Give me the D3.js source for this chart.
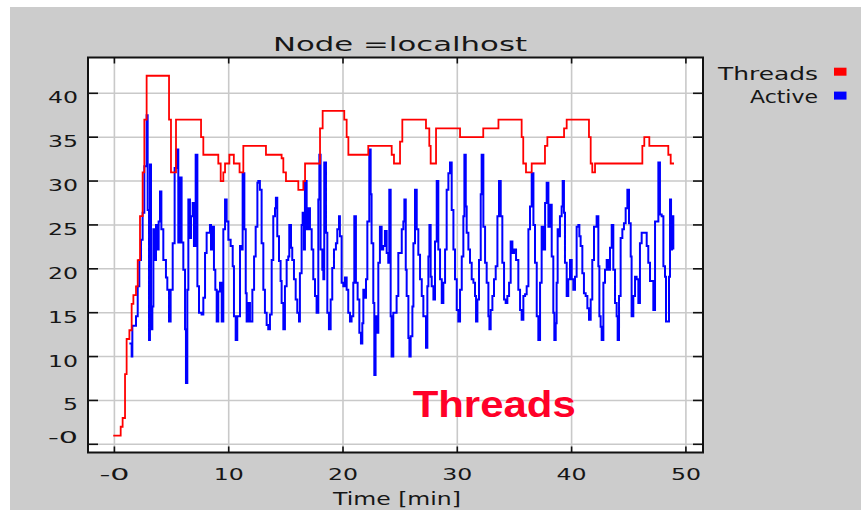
<!DOCTYPE html>
<html><head><meta charset="utf-8">
<script src="https://cdn.jsdelivr.net/npm/d3@7"></script>
<style>html,body{margin:0;padding:0;background:#fff;} svg{display:block}</style>
</head><body>
<svg id="c" width="861" height="510"></svg>
<script>
// ---------------- data ----------------
const chartTitle = "Node =localhost";
const xTitle = "Time [min]";
const annotationText = "Threads";
const seriesNames = ["Threads", "Active"];
const seriesColors = ["#ff0000", "#0000ff"];
const xTicks = [0, 10, 20, 30, 40, 50];
const xTickLabels = ["-0", "10", "20", "30", "40", "50"];
const yTicks = [0, 5, 10, 15, 20, 25, 30, 35, 40];
const yTickLabels = ["-0", "5", "10", "15", "20", "25", "30", "35", "40"];

const threadsTime = [-0.1, 0.55, 0.72, 0.93, 1.07, 1.31, 1.51, 1.66, 1.89, 2.04, 2.24, 2.47, 2.62, 2.82,
  4.78, 4.95, 5.39, 7.58, 7.78, 9.09, 9.30, 9.53, 9.68, 10.06, 10.45, 10.95, 11.28,
  13.26, 14.63, 14.78, 15.01, 16.09, 16.53, 16.68, 17.99, 18.22, 20.11, 20.32, 20.47, 22.21,
  24.26, 24.46, 24.99, 25.19, 27.26, 27.55, 27.67, 28.14, 30.24, 32.27, 33.60, 35.63, 35.77,
  36.01, 36.51, 37.67, 37.88, 39.34, 39.57, 41.52, 41.67, 41.81, 42.05, 46.19, 46.36, 46.80,
  48.46, 48.67, 48.96];
const threadsValue = [1, 2, 3, 8, 12, 13, 16, 17, 18, 21, 26, 31, 37, 42,
  37, 31, 37, 35, 33, 32, 30, 31, 32, 33, 32, 31, 34,
  33, 32.6, 31, 30, 29, 30, 32, 36, 38, 37, 35, 33, 34,
  33, 32, 34.5, 37, 36, 34, 32, 36, 35, 36, 37, 35, 32,
  31, 32, 34, 35, 36, 37, 35, 32, 31, 32, 34, 35, 34,
  33, 32, 32];

const activeTime = [1.31, 1.51, 1.57, 1.89, 2.04, 2.18, 2.33, 2.47, 2.62, 2.82, 2.91, 3.03, 3.11, 3.20,
  3.32, 3.41, 3.55, 3.64, 3.76, 3.87, 3.99, 4.11, 4.28, 4.51, 4.63, 4.78, 4.92, 5.10, 5.27, 5.42,
  5.59, 5.74, 5.88, 6.03, 6.18, 6.26, 6.38, 6.47, 6.61, 6.70, 6.85, 6.96, 7.11, 7.26, 7.40, 7.63,
  7.78, 7.93, 8.07, 8.36, 8.45, 8.60, 8.71, 8.83, 8.95, 9.09, 9.24, 9.39, 9.53, 9.68, 9.82, 9.97,
  10.17, 10.35, 10.46, 10.61, 10.75, 10.99, 11.13, 11.22, 11.37, 11.49, 11.57, 11.72, 11.86, 12.07,
  12.22, 12.36, 12.51, 12.59, 12.73, 12.88, 13.03, 13.17, 13.32, 13.46, 13.61, 13.76, 13.90, 14.05,
  14.13, 14.25, 14.40, 14.54, 14.63, 14.78, 14.92, 15.07, 15.21, 15.30, 15.45, 15.56, 15.71, 15.86,
  16.00, 16.15, 16.23, 16.38, 16.47, 16.58, 16.67, 16.82, 16.96, 17.11, 17.26, 17.40, 17.55, 17.69,
  17.84, 17.93, 18.04, 18.19, 18.28, 18.36, 18.51, 18.63, 18.77, 18.92, 19.06, 19.21, 19.38, 19.50,
  19.65, 19.73, 19.88, 20.03, 20.17, 20.32, 20.46, 20.61, 20.75, 20.90, 20.99, 21.13, 21.28, 21.43,
  21.57, 21.69, 21.78, 21.86, 22.01, 22.13, 22.30, 22.42, 22.50, 22.65, 22.74, 22.85, 22.94, 23.09,
  23.23, 23.38, 23.52, 23.67, 23.82, 23.96, 24.05, 24.17, 24.25, 24.40, 24.69, 24.84, 25.14, 25.28,
  25.37, 25.49, 25.57, 25.72, 25.81, 25.92, 26.07, 26.16, 26.30, 26.45, 26.59, 26.74, 26.89, 27.03,
  27.26, 27.38, 27.47, 27.56, 27.67, 27.76, 27.91, 28.05, 28.20, 28.34, 28.49, 28.64, 28.78, 28.93,
  29.07, 29.22, 29.36, 29.51, 29.66, 29.80, 29.95, 30.09, 30.24, 30.39, 30.53, 30.62, 30.74, 30.82,
  30.97, 31.11, 31.26, 31.41, 31.55, 31.64, 31.76, 31.90, 32.05, 32.13, 32.28, 32.43, 32.57, 32.72,
  32.81, 32.92, 33.07, 33.21, 33.36, 33.51, 33.65, 33.80, 33.94, 34.09, 34.23, 34.38, 34.53, 34.67,
  34.82, 34.96, 35.14, 35.34, 35.49, 35.63, 35.78, 35.93, 36.07, 36.22, 36.36, 36.51, 36.66, 36.80,
  36.95, 37.09, 37.24, 37.38, 37.53, 37.68, 37.82, 37.97, 38.11, 38.26, 38.40, 38.49, 38.61, 38.69,
  38.78, 38.90, 38.98, 39.13, 39.22, 39.33, 39.42, 39.57, 39.71, 39.86, 40.01, 40.15, 40.30, 40.44,
  40.59, 40.68, 40.79, 40.94, 41.08, 41.23, 41.38, 41.52, 41.67, 41.81, 41.96, 42.19, 42.34, 42.43,
  42.54, 42.63, 42.78, 42.92, 43.07, 43.21, 43.36, 43.51, 43.65, 43.80, 43.94, 44.03, 44.15, 44.29,
  44.44, 44.58, 44.73, 44.88, 45.02, 45.17, 45.25, 45.40, 45.55, 45.69, 45.84, 45.98, 46.13, 46.57,
  46.71, 46.86, 47.15, 47.30, 47.59, 47.73, 47.88, 48.03, 48.17, 48.26, 48.52, 48.61, 48.70, 48.78,
  48.90];
const activeValue = [11.5, 10.0, 13.5, 14.6, 18.0, 21.0, 23.3, 26.4, 31.7, 37.5, 26.7, 11.9, 31.9, 13.1,
  15.7, 24.5, 21.0, 25.0, 22.2, 25.4, 28.8, 24.5, 21.0, 19.0, 17.6, 14.0, 17.6, 22.9, 31.5, 33.6,
  23.0, 30.4, 23.0, 19.9, 13.1, 7.0, 17.6, 27.9, 23.5, 26.0, 27.5, 22.6, 33.0, 18.0, 15.0, 14.8,
  16.7, 21.8, 24.1, 25.0, 22.2, 24.8, 19.9, 17.6, 14.0, 17.4, 18.4, 14.0, 24.5, 27.9, 25.4, 23.3,
  22.6, 20.3, 14.6, 11.9, 14.6, 22.6, 22.2, 30.9, 24.5, 17.2, 14.0, 16.1, 14.0, 17.6,
  21.4, 24.8, 29.8, 30.0, 29.0, 22.9, 17.6, 15.0, 13.6, 13.1, 14.8, 21.0, 26.0, 26.9,
  28.1, 23.7, 20.9, 18.6, 16.1, 13.1, 18.0, 21.0, 21.4, 25.0, 22.4, 21.0, 18.8, 16.5,
  15.0, 14.0, 19.5, 25.0, 26.4, 22.2, 30.0, 24.5, 26.9, 24.5, 22.2, 18.8, 16.9, 15.0,
  27.9, 33.0, 22.2, 19.9, 18.8, 32.1, 24.1, 15.0, 13.1, 16.5, 20.1, 22.2, 22.9, 24.5,
  26.0, 23.7, 18.4, 18.0, 19.0, 17.6, 15.0, 14.0, 14.6, 18.4, 26.0, 18.4, 16.5, 12.7,
  11.5, 13.8, 17.6, 16.7, 18.8, 25.4, 33.6, 28.5, 22.9, 16.1, 7.9, 14.6, 12.7, 20.7,
  24.8, 22.2, 22.6, 24.3, 21.8, 20.7, 29.0, 14.6, 10.0, 15.0, 16.9, 21.8, 24.5, 25.4,
  27.9, 19.9, 16.9, 12.1, 10.0, 12.3, 15.7, 22.9, 29.0, 24.5, 21.6, 18.8, 16.9, 14.6,
  11.0, 18.0, 21.4, 25.0, 19.1, 18.0, 16.5, 23.1, 30.0, 22.2, 18.8, 16.1, 18.4, 22.2,
  29.0, 30.9, 32.1, 26.7, 22.2, 18.8, 15.3, 14.0, 17.6, 21.4, 26.0, 33.0, 27.1, 24.1,
  22.2, 20.7, 18.8, 18.4, 16.9, 14.0, 16.5, 21.0, 28.5, 33.0, 24.8, 20.7, 18.4, 14.6,
  13.1, 15.3, 16.9, 18.8, 20.3, 26.0, 30.0, 26.0, 20.7, 16.5, 16.1, 16.9, 18.4, 23.1,
  21.8, 22.2, 21.0, 17.6, 15.3, 14.2, 16.9, 17.1, 18.0, 24.5, 27.1, 30.9, 25.0, 20.7,
  14.6, 11.9, 18.4, 24.8, 22.2, 27.5, 29.8, 24.8, 27.3, 21.4, 15.0, 11.9, 13.8, 18.4,
  24.5, 23.7, 26.0, 27.1, 30.0, 26.4, 20.7, 16.9, 18.8, 21.0, 18.8, 17.6, 19.1, 24.8,
  25.0, 23.7, 22.6, 19.5, 17.2, 16.9, 15.5, 14.2, 16.5, 21.0, 24.8, 26.0, 20.3, 14.6,
  13.4, 11.9, 18.4, 19.9, 21.0, 19.9, 22.4, 25.0, 19.9, 16.1, 14.6, 11.9, 16.9, 23.5,
  24.5, 25.2, 26.9, 29.0, 25.2, 21.4, 14.6, 16.9, 19.1, 18.8, 16.1, 22.9, 24.1, 22.6,
  20.7, 18.6, 15.3, 25.4, 32.1, 26.2, 26.0, 20.3, 19.1, 14.0, 19.1, 27.9, 22.2, 26.0,
  22.2];

// ---------------- drawing ----------------
const svg = d3.select("#c");
const frame = {left: 88, right: 703, top: 57.5, bottom: 452.5};
const x = d3.scaleLinear().domain([0, 50]).range([114.4, 685.9]);
const y = d3.scaleLinear().domain([0, 40]).range([444.3, 93.3]);
const FONT = "'DejaVu Sans', Verdana, sans-serif";
const txtCol = "#161616";

// grey panel
svg.append("rect").attr("x", 10).attr("y", 7).attr("width", 851).attr("height", 503).attr("fill", "#cccccc");
// plot background
svg.append("rect").attr("x", frame.left).attr("y", frame.top)
  .attr("width", frame.right - frame.left).attr("height", frame.bottom - frame.top).attr("fill", "#ffffff");

svg.append("clipPath").attr("id", "clip").append("rect")
  .attr("x", frame.left).attr("y", frame.top)
  .attr("width", frame.right - frame.left).attr("height", frame.bottom - frame.top);

// grid
const grid = svg.append("g").attr("stroke", "#c9c9c9").attr("stroke-width", 1.6);
grid.selectAll("line.v").data(xTicks).join("line")
  .attr("x1", d => x(d)).attr("x2", d => x(d)).attr("y1", frame.top).attr("y2", frame.bottom);
grid.selectAll("line.h").data(yTicks).join("line")
  .attr("y1", d => y(d)).attr("y2", d => y(d)).attr("x1", frame.left).attr("x2", frame.right);

// series
const plot = svg.append("g").attr("clip-path", "url(#clip)");
const activeData = activeTime.map((t, i) => [t, activeValue[i]]);
const threadsData = threadsTime.map((t, i) => [t, threadsValue[i]]);
const line = d3.line().x(d => x(d[0])).y(d => y(d[1])).curve(d3.curveStepAfter);
plot.append("path").datum(activeData).attr("d", line)
  .attr("fill", "none").attr("stroke", seriesColors[1]).attr("stroke-width", 2);
plot.append("path").datum(threadsData).attr("d", line)
  .attr("fill", "none").attr("stroke", seriesColors[0]).attr("stroke-width", 1.8);

// frame and ticks
svg.append("rect").attr("x", frame.left).attr("y", frame.top)
  .attr("width", frame.right - frame.left).attr("height", frame.bottom - frame.top)
  .attr("fill", "none").attr("stroke", "#111").attr("stroke-width", 2);
const tk = svg.append("g").attr("stroke", "#111").attr("stroke-width", 1.6);
yTicks.forEach(v => {
  tk.append("line").attr("x1", frame.left).attr("x2", frame.left + 10).attr("y1", y(v)).attr("y2", y(v));
  tk.append("line").attr("x1", frame.right - 10).attr("x2", frame.right).attr("y1", y(v)).attr("y2", y(v));
});
xTicks.forEach(v => {
  tk.append("line").attr("x1", x(v)).attr("x2", x(v)).attr("y1", frame.top).attr("y2", frame.top + 6);
  tk.append("line").attr("x1", x(v)).attr("x2", x(v)).attr("y1", frame.bottom - 6).attr("y2", frame.bottom);
});

// tick labels (stretched wide font, as in the reference)
const charW = 15;
yTicks.forEach((v, i) => {
  const s = yTickLabels[i];
  const w = charW * s.length;
  const base = v === 0 ? 443 : y(v) + 10;
  svg.append("text").text(s).attr("x", 78 - w).attr("y", base)
    .attr("font-family", FONT).attr("font-size", 16).attr("fill", txtCol)
    .attr("textLength", w).attr("lengthAdjust", "spacingAndGlyphs");
});
xTicks.forEach((v, i) => {
  const s = xTickLabels[i];
  const w = charW * s.length;
  svg.append("text").text(s).attr("x", x(v) - w / 2).attr("y", 480)
    .attr("font-family", FONT).attr("font-size", 16).attr("fill", txtCol)
    .attr("textLength", w).attr("lengthAdjust", "spacingAndGlyphs");
});

// axis title
svg.append("text").text(xTitle).attr("x", 333).attr("y", 505)
  .attr("font-family", FONT).attr("font-size", 17).attr("fill", txtCol)
  .attr("textLength", 128).attr("lengthAdjust", "spacingAndGlyphs");

// chart title
svg.append("text").text(chartTitle).attr("x", 273).attr("y", 50.7)
  .attr("font-family", FONT).attr("font-size", 19).attr("fill", txtCol)
  .attr("textLength", 254).attr("lengthAdjust", "spacingAndGlyphs");

// legend
const legW = [100, 68];
const legBase = [80, 102.5];
const legBoxY = [67.7, 91.6];
seriesNames.forEach((n, i) => {
  svg.append("text").text(n).attr("x", 818 - legW[i]).attr("y", legBase[i])
    .attr("font-family", FONT).attr("font-size", 17.5).attr("fill", txtCol)
    .attr("textLength", legW[i]).attr("lengthAdjust", "spacingAndGlyphs");
  svg.append("rect").attr("x", 834).attr("y", legBoxY[i]).attr("width", 12.5).attr("height", 8)
    .attr("fill", seriesColors[i]);
});

// annotation
svg.append("text").text(annotationText).attr("x", 412.7).attr("y", 417.3)
  .attr("font-family", "'Liberation Sans', Arial, sans-serif").attr("font-weight", "bold")
  .attr("font-size", 36).attr("fill", "#ff0028")
  .attr("textLength", 163).attr("lengthAdjust", "spacingAndGlyphs");
</script>
</body></html>
